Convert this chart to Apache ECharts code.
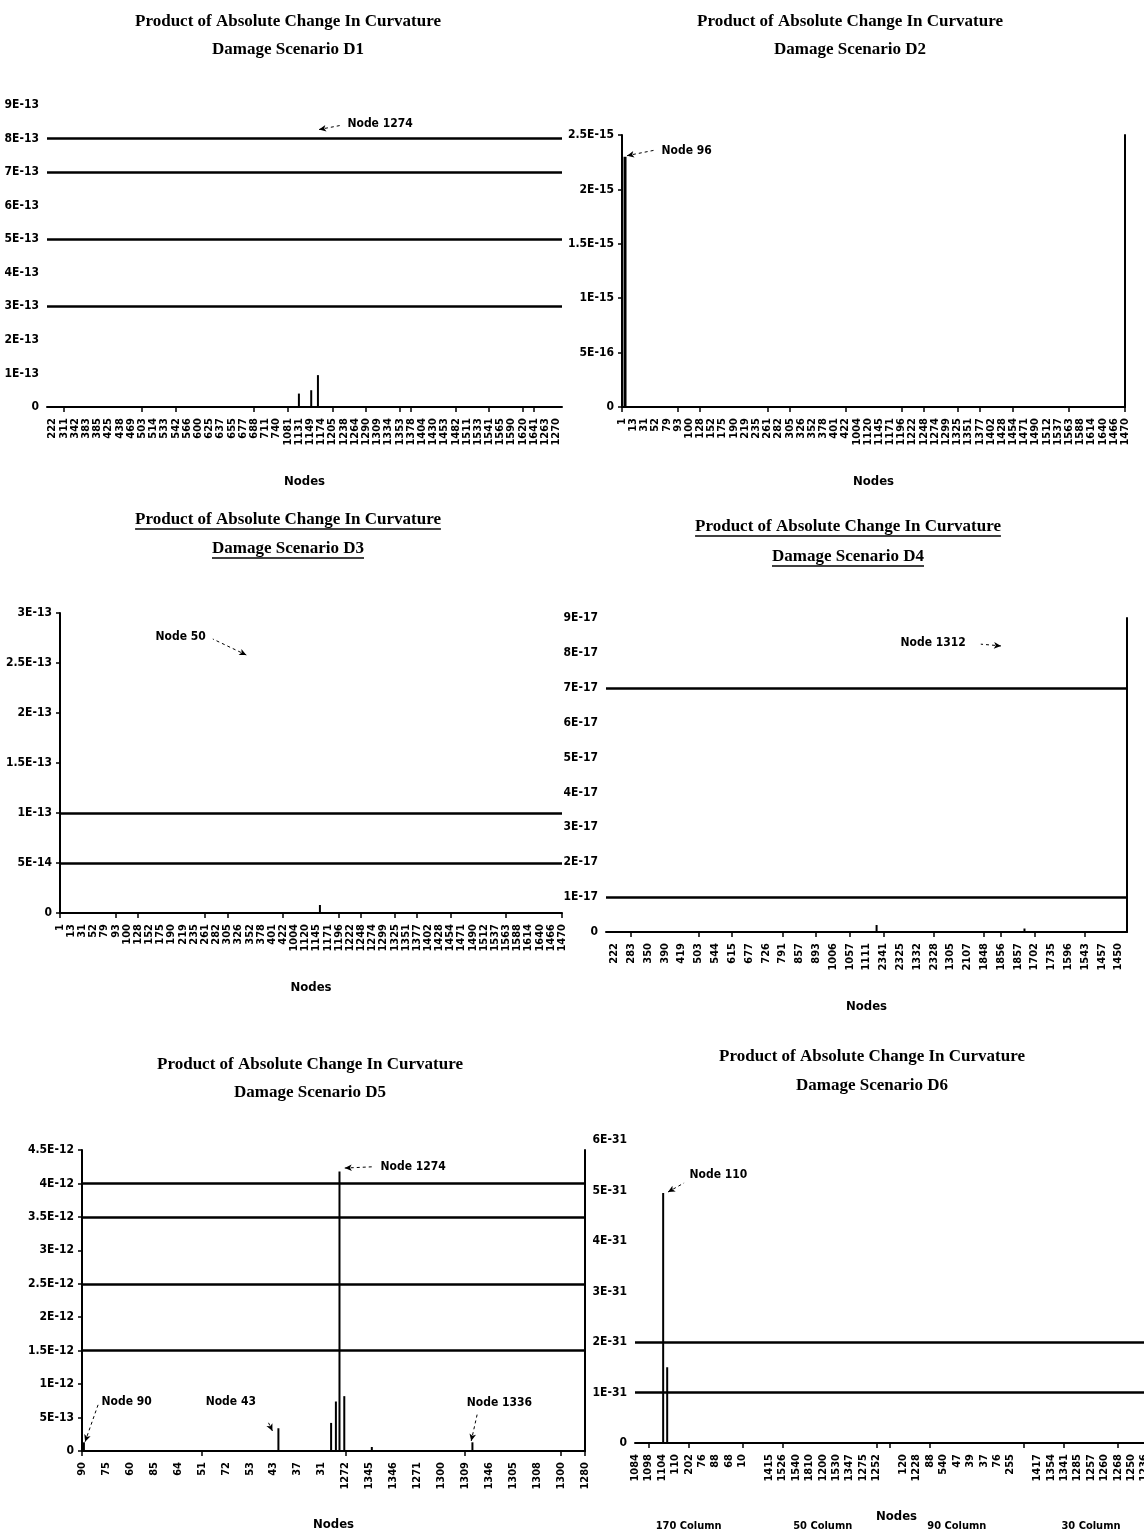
<!DOCTYPE html>
<html><head><meta charset="utf-8">
<script src="https://cdn.jsdelivr.net/npm/echarts@6/dist/echarts.min.js"></script>
<style>html,body{margin:0;padding:0;background:#fff}#c{width:1144px;height:1535px}</style>
</head><body><div id="c"></div>
<script>
// ---------- text ----------
const titleLine1 = 'Product of Absolute Change In Curvature';
const scenarioNames = ['Damage Scenario D1','Damage Scenario D2','Damage Scenario D3','Damage Scenario D4','Damage Scenario D5','Damage Scenario D6'];
const axisTitle = 'Nodes';

// ---------- category (node) labels ----------
const nodes1 = ['222','311','342','383','385','425','438','469','503','514','533','542','566','600','625','637','655','677','688','711','740','1081','1131','1149','1174','1205','1238','1264','1290','1309','1334','1353','1378','1404','1430','1453','1482','1511','1533','1541','1565','1590','1620','1641','1263','1270'];
const nodes2 = ['1','13','31','52','79','93','100','128','152','175','190','219','235','261','282','305','326','352','378','401','422','1004','1120','1145','1171','1196','1222','1248','1274','1299','1325','1351','1377','1402','1428','1454','1471','1490','1512','1537','1563','1588','1614','1640','1466','1470'];
const nodes3 = ['1','13','31','52','79','93','100','128','152','175','190','219','235','261','282','305','326','352','378','401','422','1004','1120','1145','1171','1196','1222','1248','1274','1299','1325','1351','1377','1402','1428','1454','1471','1490','1512','1537','1563','1588','1614','1640','1466','1470'];
const nodes4 = ['222','283','350','390','419','503','544','615','677','726','791','857','893','1006','1057','1111','2341','2325','1332','2328','1305','2107','1848','1856','1857','1702','1735','1596','1543','1457','1450'];
const nodes5 = ['90','75','60','85','64','51','72','53','43','37','31','1272','1345','1346','1271','1300','1309','1346','1305','1308','1300','1280'];
const nodes6 = ['1084','1098','1104','110','202','76','88','68','10',' ',
                '1415','1526','1540','1810','1200','1530','1347','1275','1252','  ',
                '120','1228','88','540','47','39','37','76','255','   ',
                '1417','1354','1341','1285','1257','1260','1268','1250','1236','1232'];
const groups6 = ['170 Column','50 Column','90 Column','30 Column'];
const groupCenters6 = [4, 14, 24, 34];

// which category labels carry a tick mark
const tickIdx1 = [1,8,11,18,21,25,28,31,32,36,39,42,43];
const tickIdx2 = [0,5,7,13,15,20,25,27,30,32,35,40,45];
const tickIdx3 = [0,5,7,13,15,20,25,27,30,32,35,40,45];
const tickIdx4 = [1,5,7,10,12,14,16,19,22,23,25,28];
const tickIdx5 = [0,5,11,16,20,21];
const tickIdx6 = [1,4,8,11,18,19,22,29,32,36];

// ---------- value axes ----------
const yMax  = [9e-13, 2.5e-15, 3e-13, 9e-17, 4.5e-12, 6e-31];
const yStep = [1e-13, 5e-16, 5e-14, 1e-17, 5e-13, 1e-31];
const yUnit = [1e-13, 1e-16, 1e-14, 1e-17, 1e-13, 1e-31];   // working unit per axis (avoids float rounding of tiny numbers)

// horizontal reference lines visible in each chart
const gridValues1 = [3e-13, 5e-13, 7e-13, 8e-13];
const gridValues2 = [];
const gridValues3 = [5e-14, 1e-13];
const gridValues4 = [1e-17, 7e-17];
const gridValues5 = [1.5e-12, 2.5e-12, 3.5e-12, 4e-12];
const gridValues6 = [1e-31, 2e-31];

// ---------- bars: position along the node axis (label slots) and value ----------
const barPos1 = [22.0, 23.1, 23.7];
const barVal1 = [0.4e-13, 0.5e-13, 0.95e-13];
const barPos2 = [0.27];
const barVal2 = [2.3e-15];
const barPos3 = [23.3];
const barVal3 = [0.8e-14];
const barPos4 = [15.6, 24.4];
const barVal4 = [0.2e-17, 0.1e-17];
const barPos5 = [0.08, 8.2, 10.4, 10.6, 10.75, 10.95, 12.1, 16.3];
const barVal5 = [0.13e-12, 0.34e-12, 0.42e-12, 0.74e-12, 4.18e-12, 0.82e-12, 0.06e-12, 0.13e-12];
const barPos6 = [2.1, 2.4];
const barVal6 = [4.95e-31, 1.5e-31];

// ---------- callouts (data coordinates) ----------
const ann1 = [{text:'Node 1274', tip:[23.8, 8.27e-13], tail:[25.7, 8.39e-13], at:[26.2, 8.45e-13], side:'right'}];
const ann2 = [{text:'Node 96',   tip:[0.45, 2.31e-15], tail:[2.9, 2.36e-15], at:[3.4, 2.35e-15], side:'right'}];
const ann3 = [{text:'Node 50',   tip:[16.7, 2.58e-13], tail:[13.7, 2.74e-13], at:[13.2, 2.76e-13], side:'left'}];
const ann4 = [{text:'Node 1312', tip:[23.0, 8.2e-17], tail:[21.8, 8.25e-17], at:[21.0, 8.28e-17], side:'left'}];
const ann5 = [
  {text:'Node 1274', tip:[10.97, 4.23e-12], tail:[12.2, 4.25e-12], at:[12.4, 4.25e-12], side:'right'},
  {text:'Node 90',   tip:[0.13, 0.14e-12], tail:[0.7, 0.72e-12], at:[0.75, 0.74e-12], side:'right'},
  {text:'Node 43',   tip:[7.95, 0.3e-12], tail:[7.75, 0.45e-12], at:[5.1, 0.74e-12], side:'right'},
  {text:'Node 1336', tip:[16.25, 0.15e-12], tail:[16.5, 0.55e-12], at:[16.0, 0.72e-12], side:'right'}
];
const ann6 = [{text:'Node 110', tip:[2.46, 4.97e-31], tail:[3.66, 5.15e-31], at:[3.95, 5.3e-31], side:'right'}];

// ---------- layout (pixels) ----------
const layout = [
  {l:47,  r:562,  t:105,  b:407,  gap:true,  lLine:false, rLine:false, tx:288, ty:[22,50],     ul:false, ng:68, bw:2},
  {l:622, r:1125, t:135,  b:407,  gap:false, lLine:true,  rLine:true,  tx:850, ty:[22,50],     ul:false, ng:68, bw:3},
  {l:60,  r:562,  t:613,  b:913,  gap:false, lLine:true,  rLine:false, tx:288, ty:[520,549],   ul:true,  ng:68, bw:2},
  {l:606, r:1127, t:618,  b:932,  gap:true,  lLine:false, rLine:true,  tx:848, ty:[527,557],   ul:true,  ng:68, bw:2},
  {l:82,  r:585,  t:1150, b:1451, gap:false, lLine:true,  rLine:true,  tx:310, ty:[1065,1093], ul:false, ng:67, bw:2},
  {l:635, r:1158, t:1140, b:1443, gap:false, lLine:false, rLine:false, tx:872, ty:[1057,1086], ul:false, ng:67, bw:2}
];

const sets = [
  {nodes:nodes1, ticks:tickIdx1, pos:barPos1, val:barVal1, lines:gridValues1, ann:ann1},
  {nodes:nodes2, ticks:tickIdx2, pos:barPos2, val:barVal2, lines:gridValues2, ann:ann2},
  {nodes:nodes3, ticks:tickIdx3, pos:barPos3, val:barVal3, lines:gridValues3, ann:ann3},
  {nodes:nodes4, ticks:tickIdx4, pos:barPos4, val:barVal4, lines:gridValues4, ann:ann4},
  {nodes:nodes5, ticks:tickIdx5, pos:barPos5, val:barVal5, lines:gridValues5, ann:ann5},
  {nodes:nodes6, ticks:tickIdx6, pos:barPos6, val:barVal6, lines:gridValues6, ann:ann6}
];

const SERIF = '"Liberation Serif","Times New Roman",serif';
const NARROW = '"Liberation Sans Narrow","DejaVu Sans Condensed","Arial Narrow",sans-serif';

function fmtE(v){
  if (Math.abs(v) < 1e-40) return '0';
  return Number(v.toPrecision(3)).toExponential().toUpperCase();
}

const grid = [], xAxis = [], yAxis = [], series = [];
sets.forEach((s, k) => {
  const L = layout[k];
  const n = s.nodes.length;
  const u = yUnit[k];
  const sc = (pt) => [pt[0], pt[1] / u];
  const xMin = L.gap ? -0.5 : 0, xMax = L.gap ? n - 0.5 : n - 1;
  grid.push({left:L.l, top:L.t, width:L.r - L.l, height:L.b - L.t, containLabel:false, outerBoundsMode:'none'});
  xAxis.push({
    type:'category', gridIndex:k, data:s.nodes, boundaryGap:L.gap,
    axisLine:{show:true, onZero:false, lineStyle:{color:'#000', width:2}},
    axisTick:{show:true, alignWithLabel:true, length:5, interval:(i)=>s.ticks.includes(i), lineStyle:{color:'#000', width:1.5}},
    axisLabel:{interval:0, rotate:90, margin:11, color:'#000', fontSize:11, fontWeight:'bold', fontFamily:NARROW},
    splitLine:{show:false},
    name:axisTitle, nameLocation:'middle', nameGap:L.ng,
    nameTextStyle:{color:'#000', fontSize:13, fontWeight:'bold', fontFamily:NARROW}
  });
  xAxis.push({type:'value', gridIndex:k, show:false, min:xMin, max:xMax, splitLine:{show:false}});
  const yMaxU = Math.round(yMax[k] / u * 1000) / 1000;
  const yStepU = Math.round(yStep[k] / u * 1000) / 1000;
  yAxis.push({
    type:'value', gridIndex:k, min:0, max:yMaxU, interval:yStepU,
    axisLine:{show:L.lLine, lineStyle:{color:'#000', width:2}},
    axisTick:{show:L.lLine, length:4, lineStyle:{color:'#000', width:1.5}},
    axisLabel:{formatter:(v) => fmtE(v * u), margin:8, color:'#000', fontSize:12, fontWeight:'bold', fontFamily:NARROW},
    splitLine:{show:false}
  });
  yAxis.push({
    type:'value', gridIndex:k, position:'right', min:0, max:yMaxU, interval:yStepU,
    show:L.rLine,
    axisLine:{show:L.rLine, lineStyle:{color:'#000', width:2}},
    axisTick:{show:false}, axisLabel:{show:false}, splitLine:{show:false}
  });

  const mlData = s.lines.map(v => [
    {coord:[xMin, v / u], symbol:'none', lineStyle:{color:'#000', width:2.5, type:'solid'}},
    {coord:[xMax, v / u], symbol:'none'}
  ]);
  s.ann.forEach(a => {
    mlData.push([
      {coord:sc(a.tip), symbol:'arrow', symbolSize:[5,7], lineStyle:{color:'#000', width:1, type:[3,3]}},
      {coord:sc(a.tail), symbol:'none'}
    ]);
  });
  series.push({
    type:'bar', xAxisIndex:2*k + 1, yAxisIndex:2*k,
    data:s.pos.map((p, i) => [p, s.val[i] / u]),
    barWidth:L.bw, itemStyle:{color:'#000'}, animation:false, silent:true,
    markLine:{silent:true, animation:false, symbol:'none', label:{show:false}, data:mlData},
    markPoint:{silent:true, animation:false,
      data:s.ann.map(a => ({
        coord:sc(a.at), symbol:'circle', symbolSize:1, itemStyle:{color:'rgba(0,0,0,0)'},
        label:{show:true, position:a.side, distance:1, formatter:a.text, color:'#000',
               fontSize:12, fontWeight:'bold', fontFamily:NARROW}
      }))
    }
  });
});

// titles as graphic text, with underlines for D3 / D4
const TFONT = 'bold 17px ' + SERIF;
const ctx = document.createElement('canvas').getContext('2d');
ctx.font = TFONT;
const graphic = [];
layout.forEach((L, k) => {
  [titleLine1, scenarioNames[k]].forEach((txt, j) => {
    graphic.push({type:'text', x:L.tx, y:L.ty[j], silent:true,
      style:{text:txt, align:'center', verticalAlign:'middle', font:TFONT, fill:'#000'}});
    if (L.ul) {
      const w = ctx.measureText(txt).width;
      graphic.push({type:'line', silent:true,
        shape:{x1:L.tx - w/2, y1:L.ty[j] + 9, x2:L.tx + w/2, y2:L.ty[j] + 9},
        style:{stroke:'#000', lineWidth:1.5}});
    }
  });
});

const chart = echarts.init(document.getElementById('c'));
chart.setOption({backgroundColor:'#fff', animation:false, grid, xAxis, yAxis, series, graphic});

// column group captions under the last chart
const extra = groups6.map((g, i) => {
  const px = chart.convertToPixel({xAxisIndex:11}, groupCenters6[i]);
  return {type:'text', x:px, y:1526, silent:true,
    style:{text:g, align:'center', verticalAlign:'middle', font:'bold 11px ' + NARROW, fill:'#000'}};
});
chart.setOption({graphic: graphic.concat(extra)});
</script>
</body></html>
